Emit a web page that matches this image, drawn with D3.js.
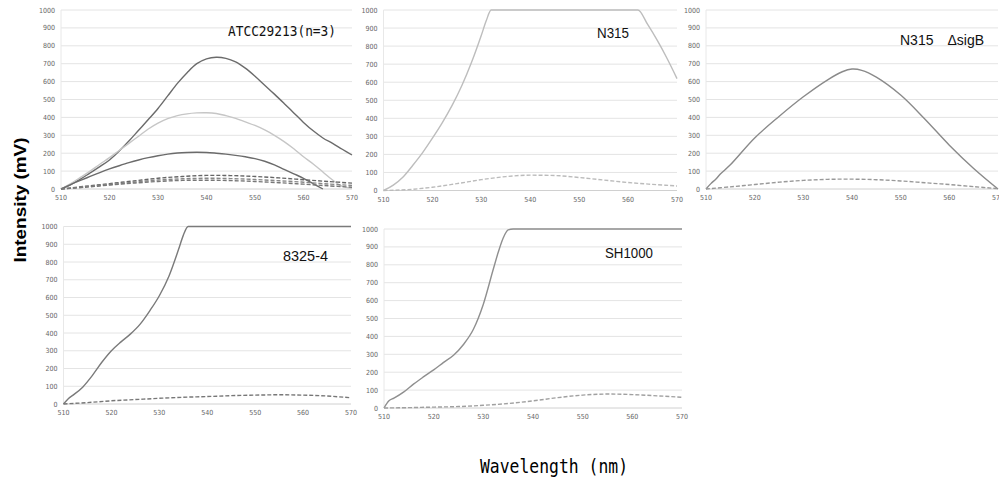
<!DOCTYPE html>
<html>
<head>
<meta charset="utf-8">
<script src="https://cdn.jsdelivr.net/npm/d3@7"></script>
<style>
  body { margin: 0; background: #fff; }
  svg { display: block; }
</style>
</head>
<body>
<div id="chart"></div>
<script>
// wavelength grids (nm)
const wl2 = d3.range(510, 571, 2);
const wl5 = d3.range(510, 571, 5);
const xTicks = [510, 520, 530, 540, 550, 560, 570];
const yTicks = [0, 100, 200, 300, 400, 500, 600, 700, 800, 900, 1000];

// ATCC29213 (n=3)
const atccA = [0, 25, 55, 90, 125, 162, 212, 268, 328, 388, 450, 520, 590, 650, 700, 727, 736, 730, 710, 675, 630, 580, 530, 478, 425, 372, 325, 285, 255, 222, 190];
const atccB = [0, 30, 65, 100, 138, 175, 215, 255, 295, 335, 368, 393, 410, 420, 425, 426, 422, 410, 395, 375, 355, 330, 300, 265, 225, 180, 140, 95, 50, 15, 5];
const atccC = [0, 25, 48, 70, 92, 112, 130, 147, 162, 175, 186, 195, 201, 204, 205, 204, 200, 195, 188, 180, 170, 155, 135, 110, 85, 60, 30, 0];
const atccD1 = [0, 15, 30, 45, 60, 70, 76, 75, 70, 62, 52, 42, 33];
const atccD2 = [0, 12, 25, 38, 50, 57, 60, 58, 53, 46, 38, 28, 20];
const atccD3 = [0, 10, 22, 33, 42, 48, 49, 47, 42, 35, 27, 18, 10];

// N315
const n315X = [510, 512, 514, 516, 518, 520, 522, 524, 526, 528, 530, 531, 532, 540, 550, 560, 562, 564, 566, 568, 570];
const n315Solid = [0, 30, 75, 140, 210, 290, 375, 470, 580, 710, 860, 940, 1000, 1000, 1000, 1000, 1000, 920, 830, 730, 620];
const n315Dash = [0, 5, 18, 38, 60, 77, 85, 83, 72, 58, 44, 34, 25];

// N315 ΔsigB
const sigbX = [510, 511, 512, 513, 515, 520, 525, 530, 535, 538, 540, 542, 545, 550, 555, 560, 565, 570];
const sigbSolid = [0, 30, 55, 85, 135, 285, 405, 515, 610, 655, 670, 663, 625, 525, 390, 245, 115, 0];
const sigbDash = [0, 12, 25, 38, 48, 54, 55, 52, 45, 35, 25, 13, 2];

// 8325-4
const s8325X = [510, 511, 512, 514, 516, 518, 520, 522, 524, 526, 528, 530, 532, 534, 535, 536, 540, 550, 560, 570];
const s8325Solid = [0, 30, 50, 95, 160, 235, 300, 350, 395, 450, 525, 610, 720, 870, 950, 1000, 1000, 1000, 1000, 1000];
const s8325Dash = [0, 8, 18, 25, 32, 38, 42, 47, 50, 52, 50, 45, 35];

// SH1000
const sh1000X = [510, 511, 512, 514, 516, 518, 520, 522, 524, 526, 528, 530, 532, 533, 534, 535, 536, 540, 550, 560, 570];
const sh1000Solid = [0, 40, 55, 90, 135, 175, 213, 255, 295, 355, 440, 580, 775, 870, 950, 995, 1000, 1000, 1000, 1000, 1000];
const sh1000Dash = [0, 2, 5, 8, 15, 25, 40, 58, 72, 78, 75, 68, 60];

const zip = (xs, ys) => ys.map((v, i) => [xs[i], v]);

const panels = [
  { title: "ATCC29213(n=3)", box: [61, 352, 10, 189], tx: 228, ty: 36, tw: 108, tf: 14, font: "DejaVu Sans Mono",
    curve: d3.curveCatmullRom,
    series: [
      { pts: zip(wl2, atccA), color: "#6b6b6b" },
      { pts: zip(wl2, atccB), color: "#c6c6c6" },
      { pts: zip(wl2, atccC), color: "#6b6b6b" },
      { pts: zip(wl5, atccD1), color: "#666", dash: true },
      { pts: zip(wl5, atccD2), color: "#888", dash: true },
      { pts: zip(wl5, atccD3), color: "#777", dash: true }
    ] },
  { title: "N315", box: [383.5, 677, 10, 190.5], tx: 597, ty: 38, tw: 32, tf: 15, font: "Liberation Sans",
    curve: d3.curveMonotoneX,
    series: [
      { pts: zip(n315X, n315Solid), color: "#bdbdbd" },
      { pts: zip(wl5, n315Dash), color: "#bbb", dash: true }
    ] },
  { title: "N315\u3000\u0394sigB", box: [706, 998, 10, 189], tx: 900, ty: 45, tw: 84, tf: 15, font: "Liberation Sans",
    curve: d3.curveCatmullRom,
    series: [
      { pts: zip(sigbX, sigbSolid), color: "#8a8a8a" },
      { pts: zip(wl5, sigbDash), color: "#999", dash: true }
    ] },
  { title: "8325-4", box: [63.5, 351, 226.5, 404], tx: 283, ty: 260.5, tw: 45, tf: 15, font: "Liberation Sans",
    curve: d3.curveMonotoneX,
    series: [
      { pts: zip(s8325X, s8325Solid), color: "#7a7a7a" },
      { pts: zip(wl5, s8325Dash), color: "#777", dash: true }
    ] },
  { title: "SH1000", box: [384, 682, 229, 408], tx: 605, ty: 258, tw: 48, tf: 15, font: "Liberation Sans",
    curve: d3.curveMonotoneX,
    series: [
      { pts: zip(sh1000X, sh1000Solid), color: "#8f8f8f" },
      { pts: zip(wl5, sh1000Dash), color: "#a0a0a0", dash: true }
    ] }
];

const width = 999;
const height = 479;

const svg = d3.select("#chart")
  .append("svg")
  .attr("width", width)
  .attr("height", height);

panels.forEach(p => {
  const [l, r, t, b] = p.box;
  const x = d3.scaleLinear().domain([510, 570]).range([l, r]);
  const y = d3.scaleLinear().domain([0, 1000]).range([b, t]);
  const g = svg.append("g");

  // gridlines
  g.append("g")
    .selectAll("line")
    .data(yTicks)
    .enter()
    .append("line")
    .attr("x1", l)
    .attr("x2", r)
    .attr("y1", d => y(d))
    .attr("y2", d => y(d))
    .attr("stroke", d => d === 0 ? "#d0d0d0" : "#e4e4e4")
    .attr("stroke-width", 1);

  g.append("line")
    .attr("x1", l).attr("x2", l)
    .attr("y1", t).attr("y2", b)
    .attr("stroke", "#e8e8e8");

  // y tick labels
  g.append("g")
    .selectAll("text")
    .data(yTicks)
    .enter()
    .append("text")
    .attr("x", l - 6)
    .attr("y", d => y(d) + 2.5)
    .attr("text-anchor", "end")
    .attr("font-family", "Liberation Sans Narrow, DejaVu Sans Condensed, sans-serif")
    .attr("font-size", "7px")
    .attr("fill", "#666")
    .text(d => d);

  // x tick labels (the last one of the right panel runs off the page, as in the original)
  g.append("g")
    .selectAll("text")
    .data(xTicks)
    .enter()
    .append("text")
    .attr("x", d => x(d))
    .attr("y", b + 11)
    .attr("text-anchor", "middle")
    .attr("font-family", "Liberation Sans Narrow, DejaVu Sans Condensed, sans-serif")
    .attr("font-size", "7px")
    .attr("fill", "#666")
    .text(d => d);

  const line = d3.line()
    .x(d => x(d[0]))
    .y(d => y(d[1]))
    .curve(p.curve);

  g.append("g")
    .selectAll("path")
    .data(p.series)
    .enter()
    .append("path")
    .attr("d", d => line(d.pts))
    .attr("fill", "none")
    .attr("stroke", d => d.color)
    .attr("stroke-width", 1.4)
    .attr("stroke-dasharray", d => d.dash ? "4,2" : null);

  g.append("text")
    .attr("x", p.tx)
    .attr("y", p.ty)
    .attr("font-family", p.font)
    .attr("font-size", p.tf + "px")
    .attr("textLength", p.tw)
    .attr("lengthAdjust", "spacingAndGlyphs")
    .attr("fill", "#111")
    .text(p.title);
});

// axis titles
svg.append("text")
  .attr("transform", "translate(26,200) rotate(-90)")
  .attr("text-anchor", "middle")
  .attr("font-family", "Liberation Sans, Arial, sans-serif")
  .attr("font-weight", "bold")
  .attr("font-size", "17px")
  .attr("textLength", 125)
  .attr("lengthAdjust", "spacingAndGlyphs")
  .attr("fill", "#000")
  .text("Intensity (mV)");

svg.append("text")
  .attr("x", 480)
  .attr("y", 473)
  .attr("font-family", "DejaVu Sans Mono, monospace")
  .attr("font-size", "19px")
  .attr("textLength", 148)
  .attr("lengthAdjust", "spacingAndGlyphs")
  .attr("fill", "#000")
  .text("Wavelength (nm)");
</script>
</body>
</html>
